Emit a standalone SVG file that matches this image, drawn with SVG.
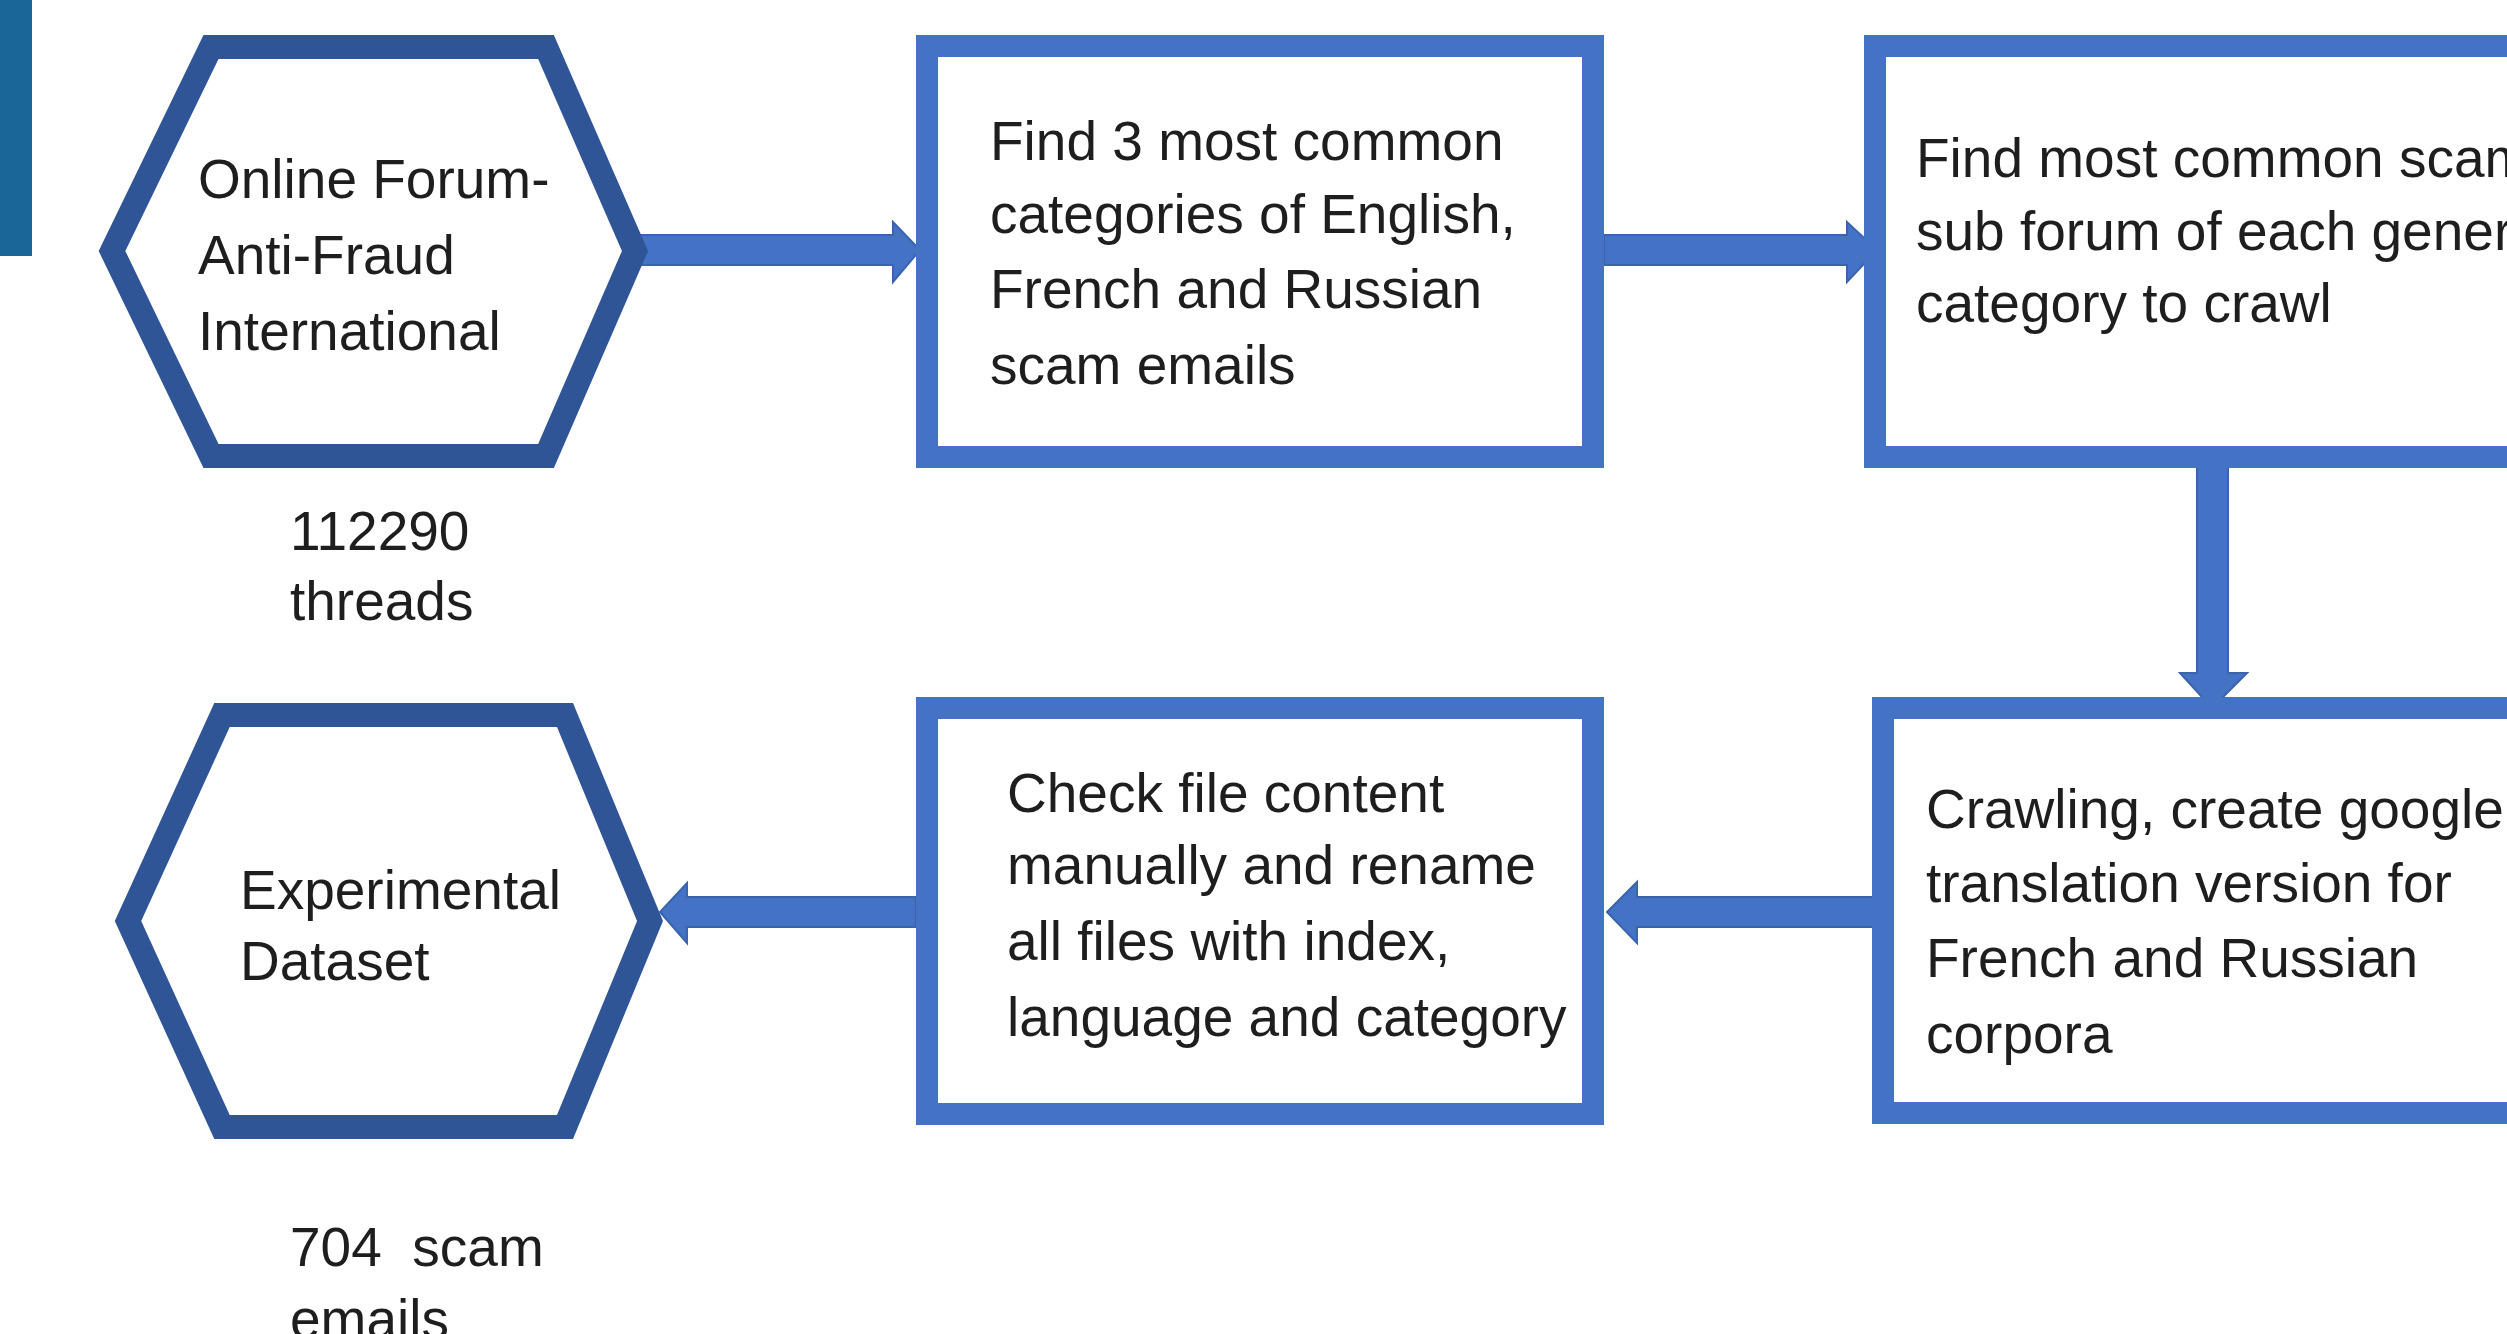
<svg xmlns="http://www.w3.org/2000/svg" width="2507" height="1334" viewBox="0 0 2507 1334">
<style>
.hex{fill:#ffffff;stroke:#2f5597;stroke-width:24;stroke-linejoin:miter}
.box{fill:#ffffff;stroke:#4472c4;stroke-width:22}
.arr{fill:#4472c4;stroke:#3b64ad;stroke-width:2;stroke-linejoin:miter}
.t{font-family:"Liberation Sans",Arial,sans-serif;font-size:55px;fill:#1e1e1e}
</style>
<rect x="0" y="0" width="2507" height="1334" fill="#ffffff"/>
<rect id="sidebar" x="0" y="0" width="32" height="256" fill="#1a6699"/>

<g id="connectors">
<polygon class="arr" points="640,235 893,235 893,222 920,250 893,282 893,265 640,265"/>
<polygon class="arr" points="1604,235 1847,235 1847,222 1877,250 1847,282 1847,265 1604,265"/>
<polygon class="arr" points="2197,460 2228,460 2228,673 2247,673 2212,708 2180,673 2197,673"/>
<polygon class="arr" points="1877,897 1637,897 1637,882 1607,912 1637,943 1637,927 1877,927"/>
<polygon class="arr" points="916,897 687,897 687,883 660,912 687,943 687,927 916,927"/>
</g>

<g id="node-forum">
<polygon class="hex" points="112,251 211,47 546,47 635,251 546,456 211,456"/>
<text class="t" x="198" y="198">Online Forum-</text>
<text class="t" x="198" y="274">Anti-Fraud</text>
<text class="t" x="198" y="350">International</text>
</g>

<g id="label-threads">
<text class="t" x="290" y="550">112290</text>
<text class="t" x="290" y="620">threads</text>
</g>

<g id="node-categories">
<rect class="box" x="927" y="46" width="666" height="411"/>
<text class="t" x="990" y="160">Find 3 most common</text>
<text class="t" x="990" y="233">categories of English,</text>
<text class="t" x="990" y="308">French and Russian</text>
<text class="t" x="990" y="384">scam emails</text>
</g>

<g id="node-subforum">
<rect class="box" x="1875" y="46" width="700" height="411"/>
<text class="t" x="1916" y="177">Find most common scam</text>
<text class="t" x="1916" y="250">sub forum of each general</text>
<text class="t" x="1916" y="322">category to crawl</text>
</g>

<g id="node-crawling">
<rect class="box" x="1883" y="708" width="700" height="405"/>
<text class="t" x="1926" y="828">Crawling, create google</text>
<text class="t" x="1926" y="902">translation version for</text>
<text class="t" x="1926" y="977">French and Russian</text>
<text class="t" x="1926" y="1053">corpora</text>
</g>

<g id="node-check">
<rect class="box" x="927" y="708" width="666" height="406"/>
<text class="t" x="1007" y="812">Check file content</text>
<text class="t" x="1007" y="884">manually and rename</text>
<text class="t" x="1007" y="960">all files with index,</text>
<text class="t" x="1007" y="1036">language and category</text>
</g>

<g id="node-dataset">
<polygon class="hex" points="128,921 222,715 565,715 650,921 565,1127 222,1127"/>
<text class="t" x="240" y="909">Experimental</text>
<text class="t" x="240" y="980">Dataset</text>
</g>

<g id="label-emails">
<text class="t" x="290" y="1266" xml:space="preserve">704  scam</text>
<text class="t" x="290" y="1338">emails</text>
</g>
</svg>
